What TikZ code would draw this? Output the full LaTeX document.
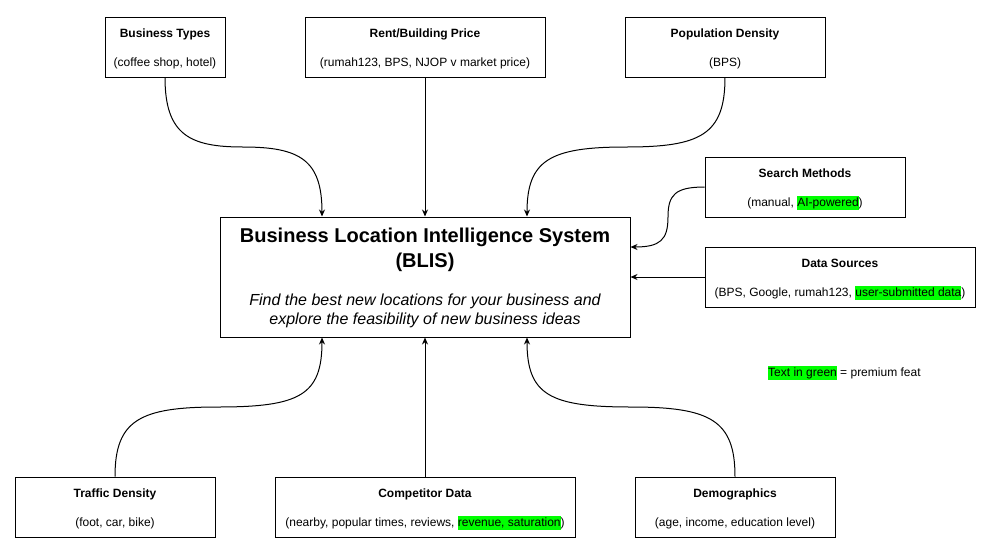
\documentclass[tikz,border=0pt]{standalone}
\usepackage{fontspec}
\setmainfont{Liberation Sans}
\usetikzlibrary{arrows.meta,calc}
\definecolor{hlgreen}{HTML}{00FF00}
\newcommand{\hlg}[1]{{\setlength{\fboxsep}{0pt}\colorbox{hlgreen}{\strut #1}}}
\newcommand{\twotext}[3]{%
  \node[tt] (#1t) at ($(#1.center)+(0,-10)$) {#2};
  \node[st] (#1s) at ($(#1.center)+(0,19)$) {#3};}
\begin{document}
\begin{tikzpicture}[x=1pt,y=-1pt,
  box/.style={draw=black,line width=1pt,fill=white,inner sep=0pt,minimum height=60pt},
  tt/.style={anchor=base,inner sep=0pt,font=\fontsize{12}{14}\selectfont\bfseries},
  st/.style={anchor=base,inner sep=0pt,font=\fontsize{12}{14}\selectfont},
  bigt/.style={anchor=base,inner sep=0pt,font=\fontsize{20}{24}\selectfont\bfseries},
  bigs/.style={anchor=base,inner sep=0pt,font=\fontsize{16}{19}\selectfont\itshape},
  conn/.style={draw=black,line width=1pt,-{Stealth[length=7pt,width=6pt]}}]
\useasboundingbox (0,0) rectangle (994,555);
\fill[white] (0,0) rectangle (994,555);
% top boxes
\node[box,minimum width=120pt] (bt) at (165,47) {};
\twotext{bt}{Business Types}{(coffee shop, hotel)}
\node[box,minimum width=240pt] (rent) at (425,47) {};
\twotext{rent}{Rent/Building Price}{(rumah123, BPS, NJOP v market price)}
\node[box,minimum width=200pt] (pop) at (725,47) {};
\twotext{pop}{Population Density}{(BPS)}
% right boxes
\node[box,minimum width=200pt] (search) at (805,187) {};
\twotext{search}{Search Methods}{(manual, \hlg{AI-powered})}
\node[box,minimum width=270pt] (data) at (840,277) {};
\twotext{data}{Data Sources}{(BPS, Google, rumah123, \hlg{user-submitted data})}
% central box
\node[box,minimum width=410pt,minimum height=120pt] (blis) at (425,277) {};
\node[bigt] (blist1) at ($(blis.center)+(0,-35)$) {Business Location Intelligence System};
\node[bigt] (blist2) at ($(blis.center)+(0,-10)$) {(BLIS)};
\node[bigs] (bliss1) at ($(blis.center)+(0,28)$) {Find the best new locations for your business and};
\node[bigs] (bliss2) at ($(blis.center)+(0,47)$) {explore the feasibility of new business ideas};
% bottom boxes
\node[box,minimum width=200pt] (traffic) at (115,507) {};
\twotext{traffic}{Traffic Density}{(foot, car, bike)}
\node[box,minimum width=300pt] (comp) at (425,507) {};
\twotext{comp}{Competitor Data}{(nearby, popular times, reviews, \hlg{revenue, saturation})}
\node[box,minimum width=200pt] (demo) at (735,507) {};
\twotext{demo}{Demographics}{(age, income, education level)}
% legend
\node[anchor=base west,inner sep=0pt,font=\fontsize{12}{14}\selectfont] (legend) at (768,376)
  {\hlg{Text in green} = premium feat};
% connectors
\draw[conn] (bt.south) .. controls (165,135) and (190,147) .. (243,147)
  .. controls (300,147) and (322,160) .. ($(blis.north)+(-103,0)$);
\draw[conn] (rent.south) -- (blis.north);
\draw[conn] (pop.south) .. controls (725,135) and (700,147) .. (626,147)
  .. controls (550,147) and (527,160) .. ($(blis.north)+(102,0)$);
\draw[conn] (search.west) .. controls (675,187) and (668,195) .. (668,217)
  .. controls (668,240) and (660,247) .. ($(blis.east)+(0,-30)$);
\draw[conn] (data.west) -- (blis.east);
\draw[conn] (traffic.north) .. controls (115,420) and (140,407) .. (218,407)
  .. controls (300,407) and (322,395) .. ($(blis.south)+(-103,0)$);
\draw[conn] (comp.north) -- (blis.south);
\draw[conn] (demo.north) .. controls (735,420) and (710,407) .. (631,407)
  .. controls (550,407) and (527,395) .. ($(blis.south)+(102,0)$);
\end{tikzpicture}
\end{document}
